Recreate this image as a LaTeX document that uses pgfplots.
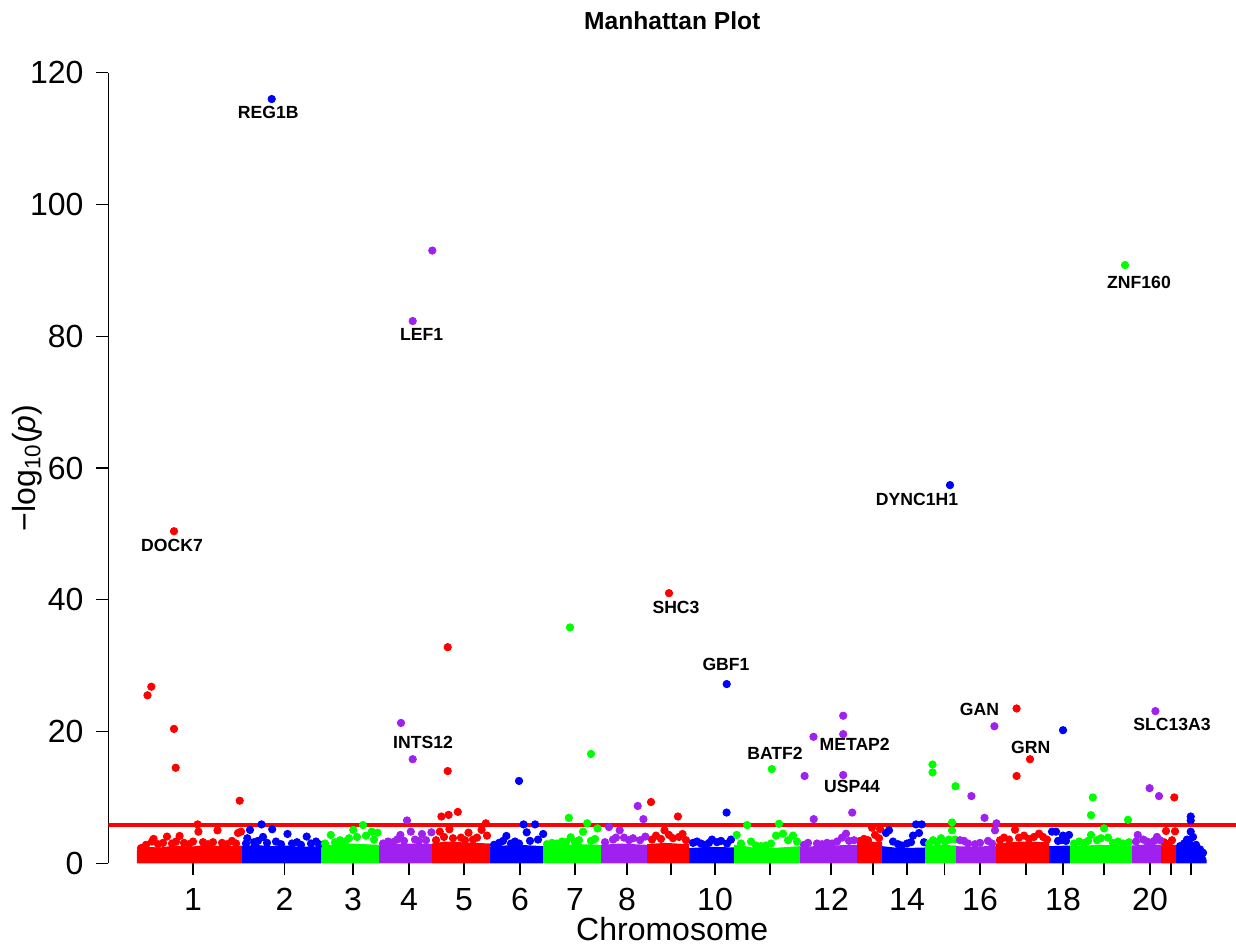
\documentclass[border=0pt]{standalone}
\usepackage{fontspec}
\setmainfont{Liberation Sans}
\usepackage{pgfplots}
\pgfplotsset{compat=1.18}
\definecolor{cred}{RGB}{255,0,0}
\definecolor{cblue}{RGB}{0,0,255}
\definecolor{cgreen}{RGB}{0,255,0}
\definecolor{cpurple}{RGB}{160,32,240}
\newcommand{\genefont}{\bfseries\fontsize{8.8}{10}\selectfont}

\begin{document}
\begin{tikzpicture}
\useasboundingbox (0,0) rectangle (618pt,472.5pt);
\begin{axis}[
    at={(54.25pt,40.85pt)}, anchor=south west,
    scale only axis, width=563.75pt, height=395.3pt,
    xmin=108.5, xmax=1236, ymin=0, ymax=120,
    axis x line*=bottom, axis y line*=left,
    x axis line style={draw=none},
    axis line style={-, line width=0.6pt},
    tick align=outside, major tick length=6pt,
    tick style={black, line width=0.6pt},
    xtick={193,284.5,353,409,464,520,575,627,671,715,770,831,873,907,944.5,980,1026,1063,1104,1150,1171,1191},
    xticklabels={1,2,3,4,5,6,7,8,,10,,12,,14,,16,,18,,20,,},
    ytick={0,20,...,120},
    /pgf/number format/assume math mode=true,
    ticklabel style={font=\fontsize{16}{19}\selectfont},
    xticklabel style={yshift=-3pt},
    yticklabel style={xshift=-3pt},
    xlabel={Chromosome},
    xlabel style={at={(axis description cs:0.5,-0.0831)}, anchor=center, font=\fontsize{16}{19}\selectfont},
    ylabel={−log\textsubscript{10}(\textit{p})},
    ylabel style={at={(axis description cs:-0.0723,0.5)}, anchor=center, font=\fontsize{16}{19}\selectfont},
    title={Manhattan Plot},
    title style={at={(axis description cs:0.5,1.0395)}, anchor=base, font=\bfseries\fontsize{12.3}{14}\selectfont},
    every axis plot/.append style={mark size=1.85pt},
]
% dense low-significance blocks, one per chromosome
\addplot[fill=cred, draw=none] coordinates {(137,0)(137,2.0)(145,2.5)(160,2.4)(175,2.7)(190,2.5)(205,2.8)(220,2.6)(242,2.7)(242,0)};
\addplot[fill=cblue, draw=none] coordinates {(242,0)(242,2.6)(255,2.8)(270,2.6)(285,2.7)(300,2.5)(321,2.6)(321,0)};
\addplot[fill=cgreen, draw=none] coordinates {(321,0)(321,2.6)(335,2.9)(350,3.0)(365,2.9)(379,2.8)(379,0)};
\addplot[fill=cpurple, draw=none] coordinates {(379,0)(379,2.7)(395,2.9)(410,3.0)(432,2.9)(432,0)};
\addplot[fill=cred, draw=none] coordinates {(432,0)(432,3.0)(445,3.3)(460,3.2)(475,3.1)(490,3.0)(490,0)};
\addplot[fill=cblue, draw=none] coordinates {(490,0)(490,2.5)(505,2.7)(520,2.8)(543,2.6)(543,0)};
\addplot[fill=cgreen, draw=none] coordinates {(543,0)(543,2.6)(560,2.8)(580,2.9)(601,2.8)(601,0)};
\addplot[fill=cpurple, draw=none] coordinates {(601,0)(601,2.8)(620,3.0)(647,2.8)(647,0)};
\addplot[fill=cred, draw=none] coordinates {(647,0)(647,2.9)(665,3.1)(689,2.9)(689,0)};
\addplot[fill=cblue, draw=none] coordinates {(689,0)(689,2.3)(710,2.5)(734,2.4)(734,0)};
\addplot[fill=cgreen, draw=none] coordinates {(734,0)(734,2.8)(745,2.6)(760,2.2)(780,2.4)(800,2.6)(800,0)};
\addplot[fill=cpurple, draw=none] coordinates {(800,0)(800,2.5)(830,2.7)(857,2.8)(857,0)};
\addplot[fill=cred, draw=none] coordinates {(857,0)(857,3.0)(870,3.3)(882,3.2)(882,0)};
\addplot[fill=cblue, draw=none] coordinates {(882,0)(882,2.6)(900,2.3)(925,2.4)(925,0)};
\addplot[fill=cgreen, draw=none] coordinates {(925,0)(925,2.6)(940,2.8)(956,2.7)(956,0)};
\addplot[fill=cpurple, draw=none] coordinates {(956,0)(956,2.6)(975,2.5)(996,2.7)(996,0)};
\addplot[fill=cred, draw=none] coordinates {(996,0)(996,3.0)(1020,3.3)(1049,3.2)(1049,0)};
\addplot[fill=cblue, draw=none] coordinates {(1049,0)(1049,2.6)(1070,2.7)(1070,0)};
\addplot[fill=cgreen, draw=none] coordinates {(1070,0)(1070,2.6)(1100,2.8)(1132,2.6)(1132,0)};
\addplot[fill=cpurple, draw=none] coordinates {(1132,0)(1132,2.7)(1150,2.9)(1161,2.8)(1161,0)};
\addplot[fill=cred, draw=none] coordinates {(1161,0)(1161,2.7)(1176,2.8)(1176,0)};
\addplot[fill=cblue, draw=none] coordinates {(1176,0)(1176,2.4)(1184,2.8)(1190,3.8)(1195,2.9)(1199,2.0)(1204,1.4)(1206.5,0.6)(1206.5,0)};

% points, by colour
\addplot[only marks, mark=*, cred] coordinates {
 (141,2.3)(146,2.8)(152,3.3)(153.6,3.7)(158,2.9)(163,3.1)(167,4.05)(172,3.0)(176,3.3)(179.6,4.15)
 (184,3.1)(189,2.9)(193,3.3)(197.6,5.9)(198.4,4.8)(203,3.2)(208,2.9)(213,3.2)(217.5,5.0)(222,3.1)
 (227,2.9)(232,3.4)(236,3.0)(238,4.6)(239.7,9.5)(241,4.8)
 (147.5,25.5)(151.3,26.8)(174,20.4)(175.7,14.5)(174,50.4)
 (436,3.5)(439.8,4.8)(441.4,7.1)(444,4.0)(448.6,7.35)(449.4,5.16)(453,3.8)(457.8,7.8)(461,3.9)(465,3.5)
 (468.5,4.65)(473,3.6)(477,3.9)(481.6,5.06)(485.8,6.07)(487,4.2)(447.7,32.8)(447.7,14.0)
 (651,9.3)(652,3.6)(656,4.2)(661,3.7)(664.5,5.0)(669,4.3)(673,3.8)(677.9,7.1)(679,4.0)(682.5,4.45)(686,3.5)
 (669,41.0)
 (860,3.4)(864,3.7)(868,3.5)(872,5.4)(875,4.3)(879,3.8)(880,5.2)
 (1000,3.5)(1004,3.9)(1009,3.6)(1015,5.1)(1019,3.9)(1024,4.2)(1029,3.7)(1034,4.0)(1039,4.5)(1043,4.0)(1047,3.6)
 (1016.6,23.5)(1016.6,13.25)(1030,15.8)
 (1164,3.2)(1166,4.9)(1169,3.0)(1172,3.5)(1174.3,10.0)(1175,4.85)
};
\addplot[only marks, mark=*, cblue] coordinates {
 (246,3.0)(247.3,3.8)(250,5.06)(254,3.2)(258,3.4)(261.5,5.9)(263,4.0)(267,3.1)(272.2,5.16)(276,3.3)
 (281,2.9)(287.5,4.45)(292,3.0)(297,3.2)(301,2.8)(306.7,4.05)(311,3.0)(316,3.3)(319,2.9)
 (271.7,116.0)
 (494,2.8)(499,3.1)(503,3.4)(506.4,4.15)(511,3.0)(515,3.3)(519,3.0)(523.6,5.9)(526.7,4.7)(530,3.4)
 (535.1,5.9)(538,3.6)(543.2,4.45)(519,12.5)
 (693,3.1)(697,3.3)(701,3.0)(705,2.8)(709,3.1)(712,3.6)(717,3.2)(721,3.4)(726.6,7.7)(727,3.0)(731,3.6)
 (726.7,27.2)
 (886,4.6)(889,5.0)(893,3.3)(898,2.9)(902,2.7)(907,3.0)(911,3.2)(913,4.2)(916,5.9)(919,4.6)(921.7,5.9)(924,3.2)
 (950,57.4)
 (1052,4.8)(1056,4.8)(1058,3.4)(1061,3.5)(1063,4.2)(1066,3.4)(1069,4.3)(1063,20.2)
 (1180,2.6)(1184,3.0)(1187,3.6)(1190.7,4.8)(1190.7,6.5)(1190.7,7.1)(1193,4.0)(1196,2.8)(1200,2.1)(1203,1.6)
};
\addplot[only marks, mark=*, cgreen] coordinates {
 (325,3.0)(330.8,4.3)(335,3.2)(340,3.5)(345,3.3)(349,3.8)(353.3,5.06)(357,4.0)(363,5.8)(366,4.2)
 (371.7,4.8)(374,3.6)(377.5,4.65)
 (547,2.9)(552,3.1)(557,3.0)(562,3.3)(566,3.2)(568.8,6.9)(570.7,3.95)(575,3.2)(579,3.5)(583,4.8)
 (587.2,6.07)(591,3.4)(595,3.7)(597.5,5.3)(570,35.8)(591,16.6)
 (736.7,4.3)(741,3.0)(747.2,5.8)(751,3.3)(756,2.7)(761,2.6)(766,2.7)(771,3.0)(776,4.2)(779,6.0)
 (783,4.5)(788,3.5)(793,4.2)(797,3.3)(771.8,14.3)
 (929,3.0)(933,3.5)(937,3.2)(941,3.8)(945,3.3)(949,3.6)(952,6.2)(952,5.0)(955,3.6)
 (932.5,15.0)(932.5,13.8)(955.5,11.7)
 (1074,3.0)(1079,3.3)(1084,3.1)(1088,3.4)(1091,4.3)(1091,7.3)(1092.8,10.0)(1097,3.5)(1101,3.8)(1104,5.3)
 (1108,3.9)(1113,3.1)(1118,3.3)(1123,3.0)(1128,6.6)(1129,3.2)(1125,90.8)
};
\addplot[only marks, mark=*, cpurple] coordinates {
 (383,3.0)(388,3.3)(393,3.2)(397,3.6)(400.4,4.3)(404,3.4)(407,6.5)(410.8,4.8)(415,3.6)(419,3.4)
 (422,4.45)(426,3.5)(431.4,4.7)
 (401,21.3)(412.7,15.8)(412.7,82.3)(432.3,93.0)
 (605,3.2)(609,5.5)(613,3.6)(616,3.9)(619.7,5.0)(624,3.9)(629,3.5)(633,3.8)(637.7,8.7)(640,3.5)
 (643.4,6.7)(645.3,4.05)
 (804,2.8)(808,3.1)(813.7,6.7)(817,3.0)(822,2.9)(827,3.1)(832,3.0)(837,3.3)(842,3.9)(846,4.5)
 (849,3.4)(852.2,7.7)(854,3.5)
 (804.6,13.25)(813.5,19.2)(843.2,22.4)(843.2,19.6)(843.2,13.4)
 (960,3.5)(964,3.4)(968,3.0)(971.4,10.2)(975,2.9)(980,3.1)(984.5,6.9)(988,3.4)(992,3.0)(995,5.0)(996.4,6.07)
 (994.4,20.8)
 (1136,3.3)(1137.7,4.3)(1143.3,3.6)(1147,3.3)(1149.6,11.4)(1150,3.1)(1154,3.4)(1157,4.0)(1159,10.2)(1160,3.5)
 (1155.4,23.1)
};

% significance threshold
\addplot[cred, line width=1.7pt] coordinates {(108.5,5.8)(1236,5.8)};

% gene labels
\node[font=\genefont] at (axis cs:268.3,113.9) {REG1B};
\node[font=\genefont] at (axis cs:421.7,80.2) {LEF1};
\node[font=\genefont] at (axis cs:172,48.2) {DOCK7};
\node[font=\genefont] at (axis cs:676,38.9) {SHC3};
\node[font=\genefont] at (axis cs:726,30.2) {GBF1};
\node[font=\genefont] at (axis cs:917,55.3) {DYNC1H1};
\node[font=\genefont] at (axis cs:1139,88.2) {ZNF160};
\node[font=\genefont] at (axis cs:423,18.3) {INTS12};
\node[font=\genefont] at (axis cs:775,16.7) {BATF2};
\node[font=\genefont] at (axis cs:854.7,18.1) {METAP2};
\node[font=\genefont] at (axis cs:852,11.66) {USP44};
\node[font=\genefont] at (axis cs:979.5,23.3) {GAN};
\node[font=\genefont] at (axis cs:1030.7,17.65) {GRN};
\node[font=\genefont] at (axis cs:1172,21.07) {SLC13A3};
\end{axis}
\end{tikzpicture}
\end{document}
